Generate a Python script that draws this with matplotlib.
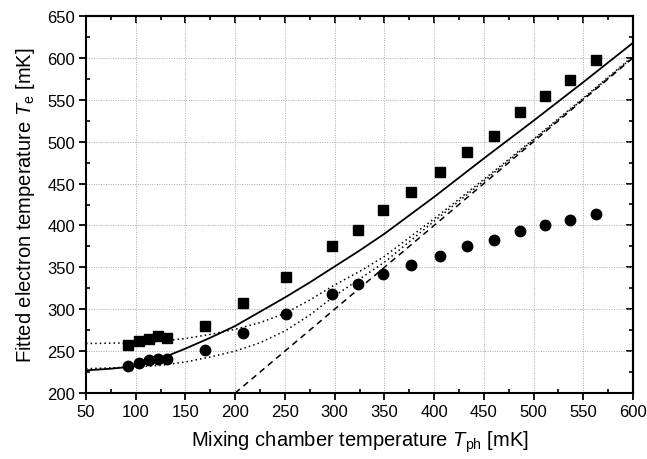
import matplotlib
matplotlib.use("Agg")
import matplotlib.pyplot as plt
from matplotlib.ticker import MultipleLocator

plt.rcParams['font.family'] = ['Liberation Sans', 'DejaVu Sans']
plt.rcParams['mathtext.fontset'] = 'custom'
plt.rcParams['mathtext.rm'] = 'Liberation Sans'
plt.rcParams['mathtext.it'] = 'Liberation Sans:italic'

# measured points
t_ph = [92, 103, 113, 122, 131, 170, 208, 251, 297, 323, 349, 377, 406,
        433, 460, 486, 512, 537, 563]
te_squares = [257, 262, 265, 268, 266, 280, 308, 338, 375, 395, 418, 440,
              464, 488, 507, 535, 554, 574, 597]
te_circles = [232, 236, 239, 241, 240, 251, 272, 294, 318, 330, 342, 353,
              364, 375, 383, 393, 400, 406, 414]

# curves
curve_x = [50, 75, 100, 125, 150, 175, 200, 225, 250, 275, 300, 325, 350,
           400, 450, 500, 550, 600]
solid_y = [227, 229, 232, 241, 253, 266, 280, 297, 314, 332, 351, 370, 390,
           434, 480, 525, 571, 618]
dot_up_y = [259, 259.5, 260, 262, 265, 270, 276, 284, 295, 311, 329, 345,
            363, 408, 455, 503, 552, 602]
dot_lo_y = [229, 230, 231, 233, 237, 243, 250, 260, 274, 293, 316, 336,
            356, 405, 453, 502, 551, 601]
dash_x = [200, 600]
dash_y = [200, 600]

fig = plt.figure(figsize=(6.47, 4.6), dpi=100)
ax = fig.add_axes([86 / 647, 66 / 460, 547 / 647, 377 / 460])

ax.plot(curve_x, solid_y, color='black', lw=1.3)
ax.plot(curve_x, dot_up_y, color='black', lw=1.1, ls=(0, (1, 2)))
ax.plot(curve_x, dot_lo_y, color='black', lw=1.1, ls=(0, (1, 2)))
ax.plot(dash_x, dash_y, color='black', lw=1.1, ls=(0, (4, 3)))
ax.plot(t_ph, te_squares, 's', color='black', ms=7, ls='none')
ax.plot(t_ph, te_circles, 'o', color='black', ms=7.5, ls='none')

ax.set_xlim(50, 600)
ax.set_ylim(200, 650)
ax.xaxis.set_major_locator(MultipleLocator(50))
ax.xaxis.set_minor_locator(MultipleLocator(25))
ax.yaxis.set_major_locator(MultipleLocator(50))
ax.yaxis.set_minor_locator(MultipleLocator(25))

ax.grid(True, which='major', color='#a8a8a8', ls=(0, (1, 1.5)), lw=0.7)
ax.set_axisbelow(True)

for s in ax.spines.values():
    s.set_linewidth(1.5)

ax.tick_params(which='major', direction='out', length=5, width=1.3,
               labelsize=12, pad=3)
ax.tick_params(which='minor', direction='in', length=3, width=1.2)

# top and right: ticks pointing inward, no labels
ax_top = ax.secondary_xaxis('top')
ax_right = ax.secondary_yaxis('right')
for sec, axis in ((ax_top, ax_top.xaxis), (ax_right, ax_right.yaxis)):
    axis.set_major_locator(MultipleLocator(50))
    axis.set_minor_locator(MultipleLocator(25))
    sec.spines[:].set_linewidth(1.5)
    sec.tick_params(which='major', direction='in', length=5, width=1.3,
                    labeltop=False, labelright=False)
    sec.tick_params(which='minor', direction='in', length=3, width=1.2)

ax.set_xlabel(r'Mixing chamber temperature $T_{\mathrm{ph}}$ [mK]',
              fontsize=14.5, labelpad=7)
ax.set_ylabel(r'Fitted electron temperature $T_{\mathrm{e}}$ [mK]',
              fontsize=14.5, labelpad=7)

fig.savefig('out.png', dpi=100)
